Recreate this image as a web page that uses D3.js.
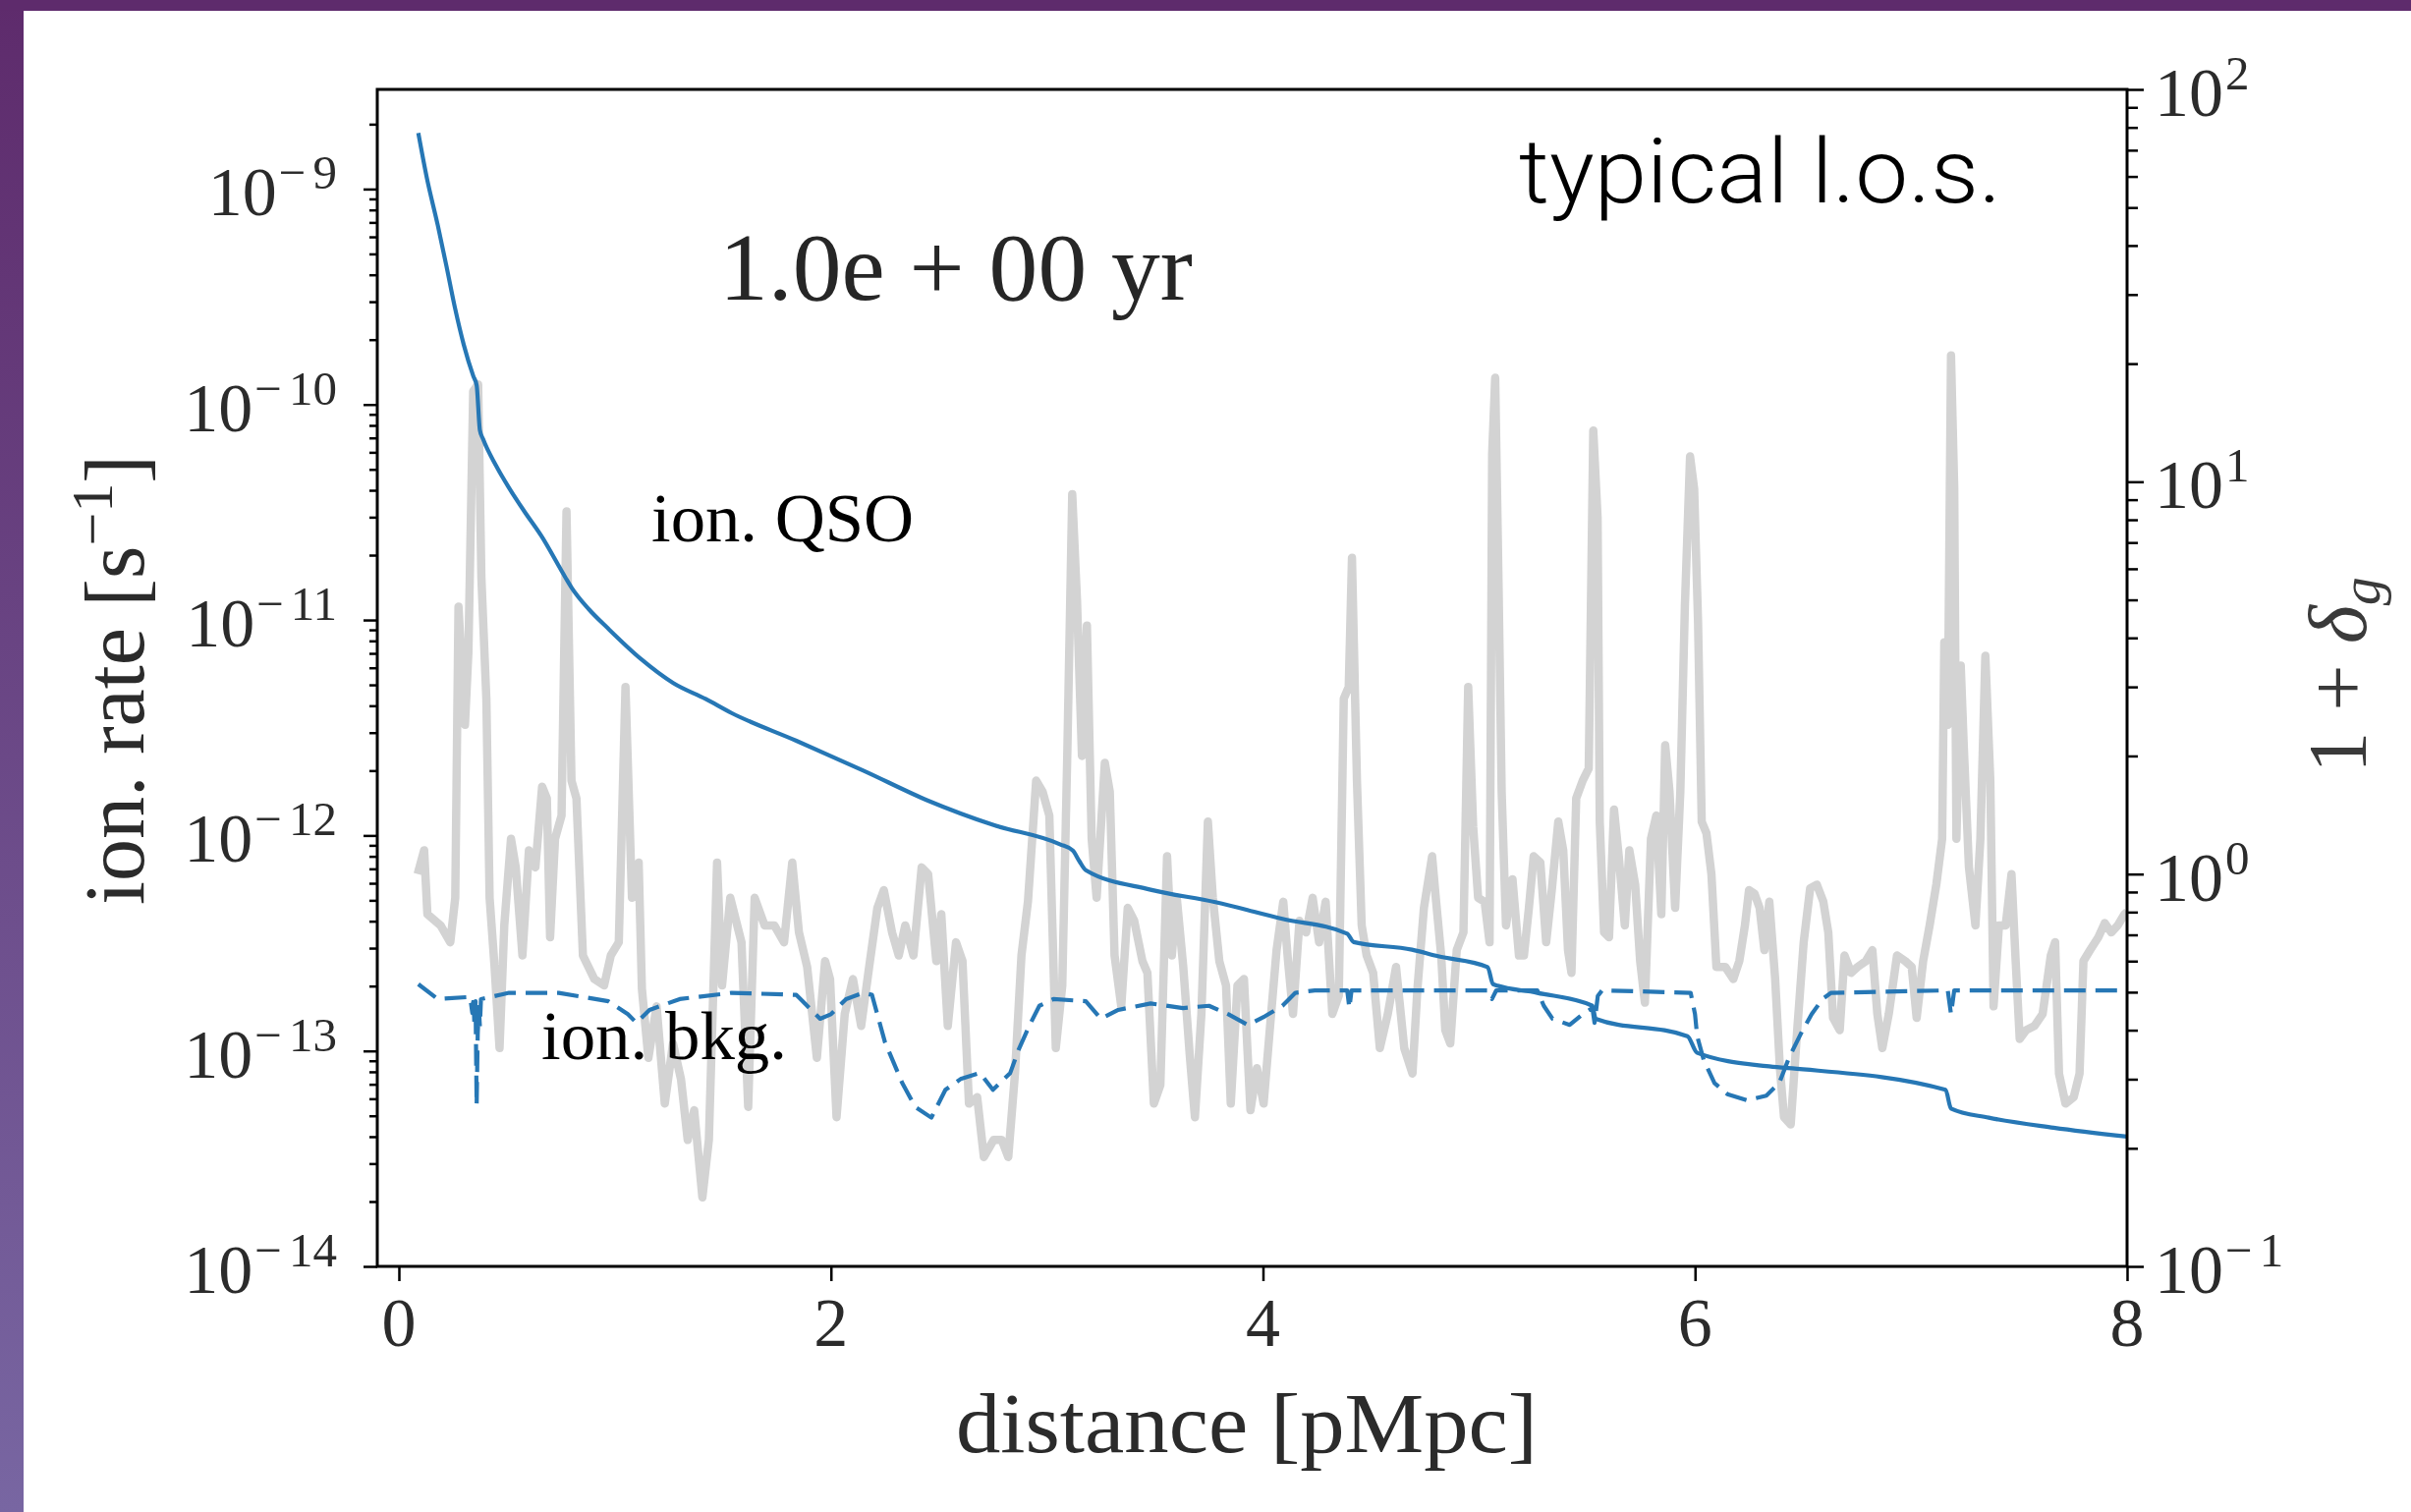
<!DOCTYPE html>
<html><head><meta charset="utf-8">
<script src="https://cdn.jsdelivr.net/npm/d3@7"></script>
<style>
html,body{margin:0;padding:0;background:#fff;overflow:hidden;}
svg{display:block;}
.cm{font-family:"Liberation Serif","Times New Roman",serif;}
</style></head><body>
<svg id="chart" width="2454" height="1539"></svg>
<script>
// ---------------- data ----------------
const distQSO = [0.09,0.13,0.18,0.22,0.26,0.30,0.345,0.36,0.375,0.39,
  0.45,0.51,0.58,0.66,0.77,0.80,0.88,0.97,1.12,1.27,
  1.42,1.54,1.84,2.15,2.45,2.75,3.06,3.12,3.15,3.18,
  3.48,3.78,4.09,4.39,4.42,4.69,4.81,5.04,5.065,5.27,
  5.525,5.54,5.965,6.01,6.33,6.45,7.16,7.185,7.36,7.66,8.0];
const rateQSO = [1.82e-9,1.12e-9,6.8e-10,4.4e-10,2.8e-10,1.9e-10,1.35e-10,1.23e-10,7.6e-11,6.9e-11,
  5.2e-11,4.1e-11,3.2e-11,2.45e-11,1.58e-11,1.41e-11,1.12e-11,9.1e-12,6.6e-12,5.1e-12,
  4.3e-12,3.7e-12,2.75e-12,2.0e-12,1.45e-12,1.12e-12,9.1e-13,8.5e-13,7.6e-13,6.9e-13,
  5.6e-13,4.9e-13,4.1e-13,3.5e-13,3.2e-13,2.95e-13,2.75e-13,2.45e-13,2.04e-13,1.86e-13,
  1.62e-13,1.41e-13,1.17e-13,9.8e-14,8.5e-14,8.3e-14,6.6e-14,5.4e-14,4.9e-14,4.4e-14,4.0e-14];

const distBkg = [0.09,0.18,0.33,0.34,0.345,0.35,0.355,0.36,0.365,0.37,
  0.375,0.38,0.51,0.74,0.97,
  1.06,1.10,1.16,1.30,1.54,1.84,1.95,2.00,2.07,2.15,
  2.19,2.25,2.33,2.39,2.465,2.53,2.60,2.69,2.75,2.83,
  2.87,2.92,2.965,3.03,3.18,3.25,3.33,3.48,3.63,3.75,
  3.84,3.93,4.01,4.09,4.15,4.24,4.39,4.40,4.41,5.04,
  5.06,5.08,5.27,5.30,5.34,5.42,5.48,5.525,5.535,5.55,
  5.57,5.98,6.00,6.01,6.04,6.09,6.15,6.24,6.33,6.39,
  6.435,6.495,6.54,6.59,6.63,7.17,7.185,7.20,8.00];
const rateBkg = [2.04e-13,1.74e-13,1.78e-13,1.5e-13,1.8e-13,1.3e-13,1.7e-13,5.6e-14,1.2e-13,1.6e-13,
  1.3e-13,1.74e-13,1.86e-13,1.86e-13,1.70e-13,
  1.48e-13,1.35e-13,1.55e-13,1.74e-13,1.86e-13,1.82e-13,1.41e-13,1.48e-13,1.74e-13,1.86e-13,
  1.82e-13,1.10e-13,7.1e-14,5.5e-14,4.9e-14,6.6e-14,7.4e-14,7.9e-14,6.6e-14,7.9e-14,
  1.02e-13,1.32e-13,1.62e-13,1.74e-13,1.70e-13,1.41e-13,1.55e-13,1.66e-13,1.58e-13,1.62e-13,
  1.48e-13,1.32e-13,1.45e-13,1.62e-13,1.86e-13,1.91e-13,1.91e-13,1.58e-13,1.91e-13,1.91e-13,
  1.74e-13,1.91e-13,1.91e-13,1.62e-13,1.41e-13,1.32e-13,1.48e-13,1.58e-13,1.35e-13,1.80e-13,
  1.91e-13,1.86e-13,1.48e-13,1.17e-13,9.1e-14,7.1e-14,6.3e-14,5.9e-14,6.2e-14,7.1e-14,
  9.3e-14,1.23e-13,1.48e-13,1.74e-13,1.86e-13,1.91e-13,1.48e-13,1.91e-13,1.91e-13];

const distDens = [0.087,0.117,0.132,0.193,0.238,0.261,0.276,0.306,0.322,0.344,
  0.367,0.382,0.405,0.42,0.443,0.466,0.488,0.519,0.541,0.572,
  0.602,0.632,0.663,0.685,0.70,0.723,0.753,0.776,0.799,0.822,
  0.852,0.905,0.95,0.981,1.018,1.049,1.079,1.11,1.125,1.155,
  1.193,1.231,1.269,1.306,1.337,1.367,1.405,1.435,1.473,1.496,
  1.534,1.586,1.617,1.647,1.693,1.738,1.783,1.821,1.852,1.89,
  1.935,1.973,1.996,2.026,2.064,2.102,2.14,2.177,2.215,2.245,
  2.283,2.314,2.344,2.382,2.42,2.45,2.488,2.511,2.541,2.579,
  2.609,2.639,2.677,2.708,2.753,2.791,2.821,2.852,2.882,2.912,
  2.95,2.98,3.011,3.041,3.071,3.094,3.117,3.139,3.162,3.185,
  3.207,3.23,3.268,3.291,3.313,3.344,3.374,3.404,3.442,3.465,
  3.495,3.525,3.556,3.578,3.601,3.631,3.662,3.685,3.715,3.745,
  3.768,3.798,3.829,3.851,3.882,3.912,3.942,3.972,4.003,4.033,
  4.063,4.094,4.116,4.139,4.169,4.2,4.23,4.26,4.29,4.321,
  4.351,4.374,4.397,4.412,4.435,4.457,4.48,4.51,4.541,4.578,
  4.616,4.654,4.692,4.715,4.745,4.783,4.80,4.825,4.844,4.867,
  4.897,4.928,4.95,4.973,4.996,5.026,5.049,5.061,5.075,5.09,
  5.105,5.125,5.155,5.185,5.208,5.231,5.253,5.284,5.311,5.337,
  5.367,5.39,5.412,5.428,5.45,5.48,5.508,5.529,5.549,5.559,
  5.579,5.602,5.625,5.647,5.675,5.696,5.723,5.746,5.768,5.796,
  5.821,5.844,5.862,5.882,5.908,5.932,5.953,5.977,5.996,6.014,
  6.031,6.053,6.076,6.099,6.14,6.177,6.205,6.231,6.25,6.276,
  6.299,6.321,6.344,6.371,6.393,6.412,6.443,6.473,6.503,6.533,
  6.564,6.594,6.617,6.639,6.67,6.692,6.723,6.753,6.791,6.821,
  6.844,6.867,6.897,6.935,6.973,7.003,7.026,7.056,7.086,7.117,
  7.144,7.154,7.17,7.185,7.2,7.21,7.23,7.245,7.268,7.298,
  7.321,7.344,7.367,7.382,7.407,7.438,7.465,7.483,7.503,7.533,
  7.571,7.609,7.647,7.667,7.685,7.715,7.753,7.78,7.798,7.829,
  7.867,7.897,7.927,7.957,7.988,8.0];
const densVals = [1.0,1.15,0.79,0.74,0.67,0.87,4.8,2.4,3.7,17,
  17.7,5.7,2.8,0.87,0.58,0.36,0.74,1.23,1.04,0.62,
  1.15,1.04,1.67,1.56,0.69,1.23,1.41,8.4,1.73,1.56,
  0.62,0.54,0.52,0.62,0.67,3.0,0.87,1.07,0.51,0.34,
  0.46,0.26,0.37,0.30,0.21,0.25,0.15,0.21,1.07,0.52,
  0.87,0.67,0.255,0.87,0.74,0.74,0.67,1.07,0.71,0.58,
  0.34,0.60,0.54,0.24,0.44,0.54,0.41,0.58,0.82,0.91,
  0.71,0.62,0.74,0.62,1.04,1.0,0.60,0.79,0.41,0.67,
  0.60,0.26,0.27,0.19,0.21,0.21,0.19,0.31,0.62,0.85,
  1.73,1.62,1.41,0.36,0.52,2.0,9.3,5.0,2.0,4.3,
  1.23,0.87,1.92,1.62,0.62,0.46,0.82,0.76,0.60,0.56,
  0.26,0.29,1.11,0.62,0.87,0.58,0.34,0.24,0.44,1.36,
  0.87,0.60,0.52,0.26,0.52,0.54,0.25,0.32,0.26,0.41,
  0.64,0.85,0.60,0.44,0.76,0.71,0.87,0.67,0.85,0.44,
  0.49,2.8,3.0,6.4,1.73,0.74,0.62,0.56,0.36,0.44,
  0.58,0.36,0.31,0.51,0.82,1.11,0.87,0.62,0.40,0.37,
  0.64,0.71,3.0,1.32,0.87,0.85,0.67,11.8,18.4,5.7,
  1.62,0.74,0.97,0.62,0.62,0.82,1.11,1.07,0.67,0.91,
  1.36,1.15,0.64,0.56,1.56,1.73,1.86,13.5,8.1,1.36,
  0.71,0.69,1.46,1.11,0.74,1.15,0.94,0.60,0.47,1.23,
  1.41,0.79,2.13,1.62,0.82,1.62,4.8,11.6,9.6,4.4,
  1.36,1.27,1.0,0.58,0.58,0.54,0.60,0.74,0.91,0.89,
  0.82,0.64,0.85,0.54,0.32,0.24,0.23,0.40,0.67,0.92,
  0.94,0.85,0.71,0.43,0.40,0.62,0.56,0.58,0.60,0.64,
  0.44,0.36,0.44,0.62,0.60,0.58,0.43,0.60,0.74,0.94,
  1.23,3.9,2.4,21,9.6,1.23,3.4,2.06,1.04,0.74,
  1.23,3.6,1.73,0.46,0.74,0.74,1.0,0.62,0.38,0.40,
  0.41,0.44,0.62,0.67,0.31,0.26,0.27,0.31,0.60,0.64,
  0.69,0.75,0.71,0.74,0.79,0.80];

const xTickValues = [0, 2, 4, 6, 8];
const xTitle = "distance [pMpc]";
const yLeftTitle = "ion. rate [s";
const timeLabel = "1.0e + 00 yr";
const losLabel = "typical l.o.s.";
const qsoLabel = "ion. QSO";
const bkgLabel = "ion. bkg.";

// ---------------- layout ----------------
const W = 2454, H = 1539;
const L = 384, R = 2165, T = 91, B = 1289;
const svg = d3.select("#chart");

const defs = svg.append("defs");
const grad = defs.append("linearGradient").attr("id","side").attr("x1",0).attr("y1",0).attr("x2",0).attr("y2",1);
grad.append("stop").attr("offset","0%").attr("stop-color","#5e2b6c");
grad.append("stop").attr("offset","100%").attr("stop-color","#7866a2");
svg.append("rect").attr("x",0).attr("y",0).attr("width",W).attr("height",H).attr("fill","#fff");
svg.append("rect").attr("x",0).attr("y",0).attr("width",24).attr("height",H).attr("fill","url(#side)");
svg.append("rect").attr("x",0).attr("y",0).attr("width",W).attr("height",11).attr("fill","#5e2b6c");

const x = d3.scaleLinear().domain([-0.1, 8]).range([L, R]);
const yL = d3.scaleLog().domain([1e-14, 2.9e-9]).range([B, T]);
const yR = d3.scaleLog().domain([0.1, 100]).range([B, T]);

const plot = svg.append("g");
const clip = defs.append("clipPath").attr("id","clipPlot");
clip.append("rect").attr("x",L).attr("y",T).attr("width",R-L).attr("height",B-T);

const blue = "#2677b5";

// density (right axis)
const densLine = d3.line().x((d,i)=>x(distDens[i])).y(d=>yR(d));
plot.append("path").attr("clip-path","url(#clipPlot)")
  .attr("d", densLine(densVals))
  .attr("fill","none").attr("stroke","#d3d3d3").attr("stroke-width",8.5)
  .attr("stroke-linejoin","round").attr("stroke-linecap","butt");

// QSO rate
const qsoLine = d3.line().x((d,i)=>x(distQSO[i])).y(d=>yL(d)).curve(d3.curveMonotoneX);
plot.append("path").attr("d", qsoLine(rateQSO))
  .attr("fill","none").attr("stroke",blue).attr("stroke-width",4.2);

// background rate
const bkgLine = d3.line().x((d,i)=>x(distBkg[i])).y(d=>yL(d));
plot.append("path").attr("d", bkgLine(rateBkg))
  .attr("fill","none").attr("stroke",blue).attr("stroke-width",4.2)
  .attr("stroke-dasharray","22,10").attr("stroke-linejoin","round");

// ---------------- axes ----------------
const isMajor = v => Math.abs(Math.log10(v) - Math.round(Math.log10(v))) < 1e-6;
const leftMajor = yL.ticks().filter(isMajor);
const leftMinor = yL.ticks().filter(v => !isMajor(v));
const rightMajor = yR.ticks().filter(isMajor);
const rightMinor = yR.ticks().filter(v => !isMajor(v));

function styleAxis(g){
  g.select(".domain").remove();
  g.selectAll(".tick line").attr("stroke","#000").attr("stroke-width",2.5);
  g.selectAll(".tick text").remove();
}
svg.append("g").attr("transform",`translate(${L},0)`)
  .call(d3.axisLeft(yL).tickValues(leftMajor).tickSize(14).tickFormat("")).call(styleAxis);
svg.append("g").attr("transform",`translate(${L},0)`)
  .call(d3.axisLeft(yL).tickValues(leftMinor).tickSize(8).tickFormat("")).call(styleAxis);
svg.append("g").attr("transform",`translate(${R},0)`)
  .call(d3.axisRight(yR).tickValues(rightMajor).tickSize(17).tickFormat("")).call(styleAxis);
svg.append("g").attr("transform",`translate(${R},0)`)
  .call(d3.axisRight(yR).tickValues(rightMinor).tickSize(11).tickFormat("")).call(styleAxis);
svg.append("g").attr("transform",`translate(0,${B})`)
  .call(d3.axisBottom(x).tickValues(xTickValues).tickSize(15).tickFormat("")).call(styleAxis);

svg.append("rect").attr("x",L).attr("y",T).attr("width",R-L).attr("height",B-T)
  .attr("fill","none").attr("stroke","#000").attr("stroke-width",3);

// tick labels
const tickColor = "#2b2b2b";
function powLabel(xPos, yPos, exp, side){
  const g = svg.append("g").attr("class","cm").attr("fill",tickColor);
  const base = g.append("text").attr("font-size",70).text("10");
  const sup = g.append("text").attr("font-size",49);
  const gap = exp < 0 ? 7 : 0;
  if (exp < 0) {
    sup.append("tspan").text("\u2212");
    sup.append("tspan").attr("dx",gap).text(String(Math.abs(exp)));
  } else {
    sup.append("tspan").text(String(exp));
  }
  const bw = base.node().getComputedTextLength();
  const sw = sup.node().getComputedTextLength() + gap;
  if (side === "left") {
    sup.attr("x", xPos - sw).attr("y", yPos);
    base.attr("x", xPos - sw - bw - 2).attr("y", yPos + 27);
  } else {
    base.attr("x", xPos).attr("y", yPos + 27);
    sup.attr("x", xPos + bw + 2).attr("y", yPos);
  }
}
leftMajor.forEach(v => powLabel(343, yL(v), Math.round(Math.log10(v)), "left"));
rightMajor.forEach(v => powLabel(2193, yR(v), Math.round(Math.log10(v)), "right"));

svg.append("g").attr("class","cm").attr("fill",tickColor).selectAll("text")
  .data(xTickValues).join("text")
  .attr("x", d => x(d)).attr("y", 1370).attr("text-anchor","middle")
  .attr("font-size",70).text(d => String(d));

// axis titles
svg.append("text").attr("class","cm").attr("fill",tickColor)
  .attr("x",973).attr("y",1478).attr("font-size",86)
  .attr("textLength",592).attr("lengthAdjust","spacingAndGlyphs").text(xTitle);

const yt = svg.append("text").attr("class","cm").attr("fill",tickColor)
  .attr("font-size",86).attr("text-anchor","middle")
  .attr("transform","translate(146,692) rotate(-90)");
yt.append("tspan").text(yLeftTitle);
yt.append("tspan").attr("font-size",60).attr("dy",-32).text("\u22121");
yt.append("tspan").attr("dy",32).text("]");

const rt = svg.append("text").attr("class","cm").attr("fill","#3a3a3a")
  .attr("font-size",84).attr("text-anchor","middle")
  .attr("transform","translate(2408,687) rotate(-90)");
rt.append("tspan").text("1 + ");
rt.append("tspan").attr("font-style","italic").text("\u03b4");
rt.append("tspan").attr("font-style","italic").attr("font-size",58).attr("dy",14).text("g");

// annotations
svg.append("text").attr("class","cm").attr("fill","#262626")
  .attr("x",732).attr("y",305).attr("font-size",98)
  .attr("textLength",482).attr("lengthAdjust","spacingAndGlyphs").text(timeLabel);
svg.append("text").attr("font-family","Roboto, 'Liberation Sans', sans-serif").attr("font-weight",300)
  .attr("fill","#000").attr("x",1546).attr("y",206).attr("font-size",90)
  .attr("textLength",491).attr("lengthAdjust","spacingAndGlyphs").text(losLabel);
svg.append("text").attr("class","cm").attr("fill","#000")
  .attr("x",663).attr("y",551).attr("font-size",70)
  .attr("textLength",267).attr("lengthAdjust","spacingAndGlyphs").text(qsoLabel);
svg.append("text").attr("class","cm").attr("fill","#000")
  .attr("x",551).attr("y",1078).attr("font-size",70)
  .attr("textLength",250).attr("lengthAdjust","spacingAndGlyphs").text(bkgLabel);
</script>
</body></html>
